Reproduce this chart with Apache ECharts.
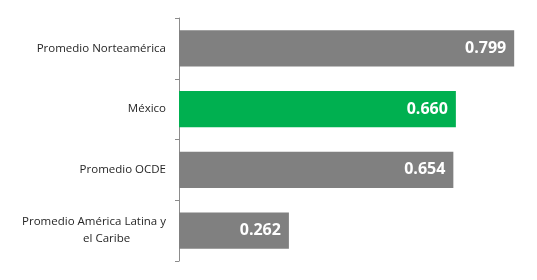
<!DOCTYPE html>
<html>
<head>
<meta charset="utf-8">
<script src="https://cdn.jsdelivr.net/npm/echarts@6/dist/echarts.min.js"></script>
<style>html,body{margin:0;padding:0;background:#fff;}#c{width:537px;height:280px;}</style>
</head>
<body>
<div id="c"></div>
<script>
const categories = ['Promedio Norteamérica', 'México', 'Promedio OCDE', 'Promedio América Latina y\nel Caribe'];
const values = [0.799, 0.660, 0.654, 0.262];
const barColors = ['#808080', '#00b050', '#808080', '#808080'];

const chart = echarts.init(document.getElementById('c'), null, {renderer: 'canvas'});
chart.setOption({
  animation: false,
  grid: {left: 179, top: 18, width: 335.6, height: 243},
  xAxis: {type: 'value', min: 0, max: 0.8, show: false},
  yAxis: {
    type: 'category',
    inverse: true,
    data: categories,
    axisLine: {show: true, lineStyle: {color: '#8c8c8c', width: 1}},
    axisTick: {show: true, length: 4, lineStyle: {color: '#8c8c8c'}},
    axisLabel: {
      margin: 13,
      color: '#262626',
      fontFamily: 'Open Sans',
      fontSize: 11.5,
      lineHeight: 17,
      formatter: function (v) {
        if (v.indexOf('\n') >= 0) {
          const p = v.split('\n');
          return p[0] + '\n' + p[1] + '\u00a0'.repeat(12);
        }
        return v;
      }
    }
  },
  series: [{
    type: 'bar',
    barCategoryGap: '40%',
    data: values.map((v, i) => ({value: v, itemStyle: {color: barColors[i]}})),
    label: {
      show: true,
      position: 'insideRight',
      distance: 8,
      color: '#ffffff',
      fontFamily: 'Open Sans',
      fontWeight: 'bold',
      fontSize: 16,
      formatter: p => p.value.toFixed(3)
    }
  }]
});
</script>
</body>
</html>
